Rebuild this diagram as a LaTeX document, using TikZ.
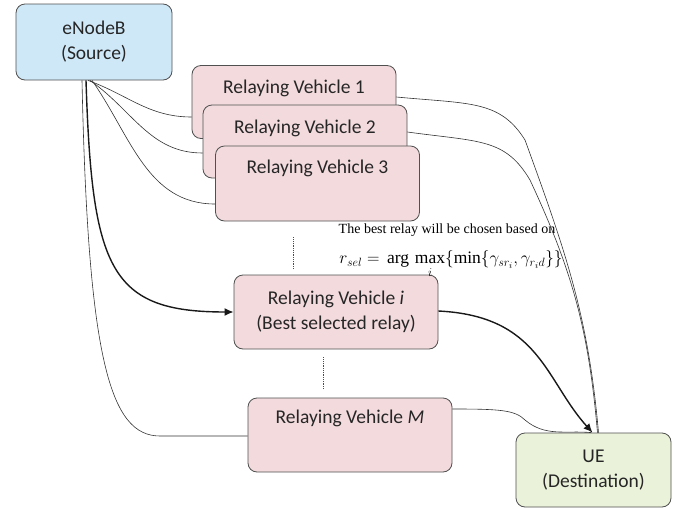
\documentclass[tikz,border=0pt]{standalone}
\usepackage{fontspec}
\setmainfont{Carlito}
\newfontfamily\notefont{Liberation Serif}
\usetikzlibrary{arrows.meta}
\definecolor{srcblue}{RGB}{207,232,248}
\definecolor{relaypink}{RGB}{242,218,221}
\definecolor{destgreen}{RGB}{234,242,218}
\definecolor{edgegray}{RGB}{80,80,80}
\newcommand{\serifop}[1]{\mathop{\hbox{\notefont #1}}}
\newcommand{\serifmax}{\mathop{\hbox{\notefont max}\rule[-2.5pt]{0pt}{0pt}}}
\tikzset{
    box/.style={draw=edgegray, thick, rounded corners=9pt, align=center, font=\fontsize{19.5}{25}\selectfont, text=black!85},
    relay/.style={box, fill=relaypink, minimum width=204, minimum height=73},
    link/.style={draw=black!80, line width=0.6pt},
    bestlink/.style={draw=black!90, line width=1.4pt, -{Latex[length=9pt,width=8pt]}},
}
\begin{document}
\begin{tikzpicture}[x=1pt, y=-1pt]
    \useasboundingbox (0,0) rectangle (681,509);

    % Source and destination
    \node[box, fill=srcblue, minimum width=156, minimum height=76] (enb) at (94,42) {eNodeB\\(Source)};
    \node[box, fill=destgreen, minimum width=155, minimum height=74] (ue) at (593.5,470) {UE\\(Destination)};

    % Candidate relays (stacked)
    \node[relay] (rv1) at (294,102) {Relaying Vehicle 1\\[6pt]\mbox{}};
    \node[relay] (rv2) at (305,141.5) {Relaying Vehicle 2\\[5pt]\mbox{}};
    \node[relay, minimum height=75] (rv3) at (317.5,183.5) {Relaying Vehicle 3\\[9pt]\mbox{}};
    \node[relay, minimum height=74] (rvi) at (336,312) {Relaying Vehicle \textit{i}\\(Best selected relay)};
    \node[relay, minimum height=74] (rvm) at (350,435) {Relaying Vehicle \textit{M}\\[12pt]\mbox{}};

    % Selection rule
    \node[inner sep=0pt, font=\notefont\fontsize{14}{16}\selectfont] (note) at (447,230) {The best relay will be chosen based on};
    \node[inner sep=0pt, font=\fontsize{17.5}{20}\selectfont] (rule) at (451,264) {$r_{sel} = \,\serifop{arg}\,\serifmax\limits_{i}\{\serifop{min}\{\gamma_{sr_i},\gamma_{r_i d}\}\}$};

    % Omitted relays
    \draw[densely dotted, thick, black!70] (rv3.south -| 293,0) ++(0,16) -- ++(0,31);
    \draw[densely dotted, thick, black!70] (rvi.south -| 323,0) ++(0,8) -- ++(0,31);

    % Source to relays
    \draw[link] ([xshift=-6]enb.south) to[out=-20,in=180] ([yshift=-15]rv1.west);
    \draw[link] ([xshift=-4]enb.south) to[out=-35,in=180] ([yshift=-11.5]rv2.west);
    \draw[link] ([xshift=-2]enb.south) to[out=-55,in=180] ([yshift=-20.5]rv3.west);
    \draw[bestlink] ([xshift=-8]enb.south) .. controls (92,270) and (110,312) .. (rvi.west);
    \draw[link] ([xshift=-12]enb.south) .. controls (88,360) and (110,436) .. (160,436) -- ([yshift=-1]rvm.west);

    % Relays to destination
    \draw[link] ([yshift=5]rv1.east) .. controls (470,104) and (500,100) .. (525,140) to[out=-70,in=95] ([xshift=5]ue.north);
    \draw[link] ([yshift=9.5]rv2.east) .. controls (480,142) and (505,138) .. (530,180) to[out=-65,in=95] ([xshift=4]ue.north);
    \draw[bestlink] ([yshift=1]rvi.east) .. controls (540,316) and (545,380) .. ([xshift=-1]ue.north);
    \draw[link] ([yshift=26]rvm.east) .. controls (500,409) and (515,410) .. (525,420) to[out=-40,in=175] ([xshift=-2]ue.north);
\end{tikzpicture}
\end{document}
